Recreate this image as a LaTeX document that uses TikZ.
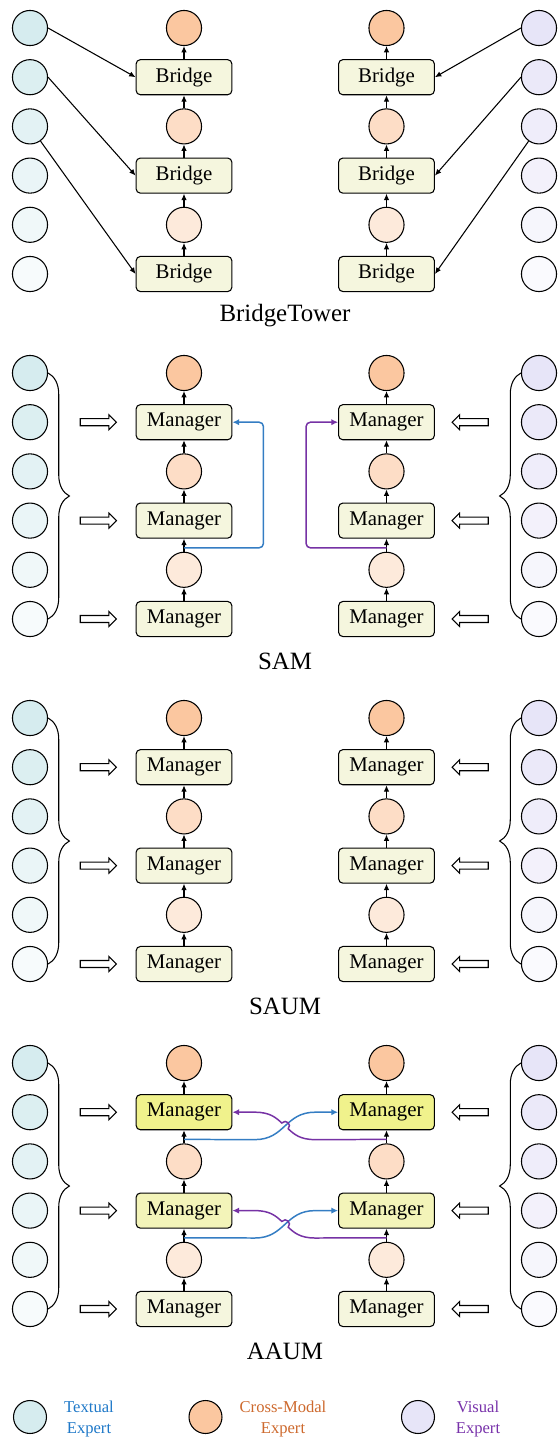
\documentclass[tikz,border=0pt]{standalone}
\usepackage{fontspec}
\setmainfont{Liberation Serif}
\usetikzlibrary{positioning,calc,arrows.meta,shapes.arrows,decorations.pathreplacing}

\definecolor{textexp}{RGB}{214,236,239}
\definecolor{crossexp}{RGB}{251,199,160}
\definecolor{visexp}{RGB}{231,229,248}
\definecolor{boxfill}{RGB}{245,246,222}
\definecolor{hotfill}{RGB}{240,242,140}
\definecolor{linkblue}{RGB}{52,125,195}
\definecolor{linkpurple}{RGB}{118,50,165}
\definecolor{txtblue}{RGB}{30,120,200}
\definecolor{txtorange}{RGB}{205,105,45}
\definecolor{txtpurple}{RGB}{120,50,170}

\tikzset{
  expert/.style={circle, draw, line width=0.5pt, minimum size=16.5pt, inner sep=0pt},
  block/.style={draw, line width=0.5pt, rounded corners=2pt, fill=boxfill,
    minimum width=45pt, minimum height=16.5pt, inner sep=0pt,
    font=\fontsize{9.8}{11}\selectfont},
  flow/.style={-{Latex[length=3pt,width=2.6pt]}, line width=0.5pt},
  feed/.style={single arrow, draw, line width=0.5pt, fill=white, inner sep=1.4pt,
    minimum height=17pt, single arrow head extend=1.9pt},
  shortcut/.style={-{Latex[length=3.2pt,width=3pt]}, line width=0.7pt, rounded corners=2pt},
  crosslink/.style={-{Latex[length=3.2pt,width=3pt]}, line width=0.7pt},
  curly/.style={decorate, decoration={brace, amplitude=10pt}, line width=0.5pt},
  title/.style={font=\fontsize{11.7}{14}\selectfont},
  legend/.style={align=center, font=\fontsize{7.8}{10.3}\selectfont}
}

\begin{document}
\begin{tikzpicture}[x=0.47pt, y=-0.47pt]
\useasboundingbox (0,0) rectangle (558,1437);
\coordinate (ax) at (285,0);

\foreach \p/\lbl/\name in {0/Bridge/BridgeTower, 1/Manager/SAM, 2/Manager/SAUM, 3/Manager/AAUM} {
  \pgfmathsetmacro{\yo}{28+345*\p}
  \foreach \k/\pct in {1/100, 2/85, 3/68, 4/52, 5/36, 6/20} {
    \node[expert, fill=textexp!\pct] (t\p-\k) at (30, \yo+49.2*\k-49.2) {};
    \node[expert, fill=visexp!\pct] (v\p-\k) at (539, \yo+49.2*\k-49.2) {};
  }
  \foreach \k/\pct/\hot in {1/100/100, 2/60/45, 3/38/0} {
    \pgfmathtruncatemacro{\hf}{\p==3 ? \hot : 0}
    \node[expert, fill=crossexp!\pct] (c\p-\k) at (184, \yo+98.4*\k-98.4) {};
    \node[expert, fill=crossexp!\pct] (rc\p-\k) at (386.5, \yo+98.4*\k-98.4) {};
    \node[block, fill=hotfill!\hf!boxfill] (m\p-\k) at (184, \yo+98.4*\k-49.2) {\lbl};
    \node[block, fill=hotfill!\hf!boxfill] (rm\p-\k) at (386.5, \yo+98.4*\k-49.2) {\lbl};
    \draw[flow] (m\p-\k) -- (c\p-\k);
    \draw[flow] (rm\p-\k) -- (rc\p-\k);
  }
  \foreach \k/\n in {1/2, 2/3} {
    \draw[flow] (c\p-\n) -- (m\p-\k);
    \draw[flow] (rc\p-\n) -- (rm\p-\k);
  }
  \node[title] (title\p) at (285, \yo+288) {\name};
}

\foreach \k in {1,2} {
  \draw[flow] (t0-\k.east) -- (m0-\k.west);
  \draw[flow] (v0-\k.west) -- (rm0-\k.east);
}
\draw[flow] (t0-3) -- (m0-3.west);
\draw[flow] (v0-3) -- (rm0-3.east);

\foreach \p in {1,2,3} {
  \draw[curly] (t\p-1.east) -- (t\p-6.east);
  \draw[curly] (v\p-6.west) -- (v\p-1.west);
  \foreach \k in {1,2,3} {
    \node[feed] (fl\p-\k) at ($(m\p-\k.west)+(-39,0)$) {};
    \node[feed, shape border rotate=180] (fr\p-\k) at ($(rm\p-\k.east)+(37,0)$) {};
  }
}

\coordinate (sb) at ($(m1-2.south)!0.7!(c1-3.north)$);
\coordinate (sp) at ($(rm1-2.south)!0.7!(rc1-3.north)$);
\draw[shortcut, linkblue] (sb) -| ($(m1-1.east)+(31,0)$) -- (m1-1.east);
\draw[shortcut, linkpurple] (sp) -| ($(rm1-1.west)+(-32,0)$) -- (rm1-1.west);

\foreach \k/\n in {1/2, 2/3} {
  \coordinate (ab) at ($(m3-\k.south)!0.7!(c3-\n.north)$);
  \coordinate (ap) at ($(rm3-\k.south)!0.7!(rc3-\n.north)$);
  \coordinate (x) at ($(m3-\k.east -| ax)+(0,13.7)$);
  \draw[crosslink, linkblue] (ab) -- ($(x)+(-30,13.7)$)
    .. controls ($(x)+(0,13.7)$) and ($(x)+(0,-13.7)$) .. ($(x)+(30,-13.7)$) -- (rm3-\k.west);
  \draw[crosslink, linkpurple] (ap) -- ($(x)+(30,13.7)$)
    .. controls ($(x)+(15,13.7)$) and ($(x)+(9.1,8.3)$) .. ($(x)+(3.2,2.9)$)
    .. controls ($(x)+(7.2,-1.5)$) and ($(x)+(0.8,-7.3)$) .. ($(x)+(-3.2,-2.9)$)
    .. controls ($(x)+(-9.1,-8.3)$) and ($(x)+(-15,-13.7)$) .. ($(x)+(-30,-13.7)$) -- (m3-\k.east);
}

\node[expert, minimum size=15.5pt, fill=textexp] (lt) at (30,1417) {};
\node[legend, text=txtblue] (ltx) at (89,1419) {Textual\\Expert};
\node[expert, minimum size=15.5pt, fill=crossexp] (lc) at (205.5,1417) {};
\node[legend, text=txtorange] (lcx) at (283,1419) {Cross-Modal\\Expert};
\node[expert, minimum size=15.5pt, fill=visexp] (lv) at (418,1417) {};
\node[legend, text=txtpurple] (lvx) at (478,1419) {Visual\\Expert};
\end{tikzpicture}
\end{document}
